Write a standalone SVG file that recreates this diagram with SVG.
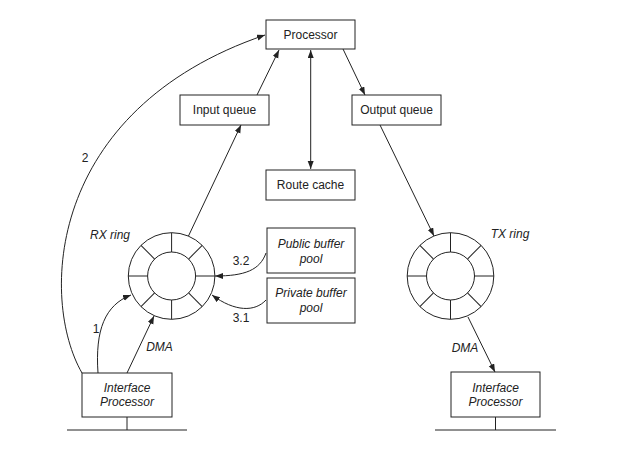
<svg xmlns="http://www.w3.org/2000/svg" width="621" height="450" viewBox="0 0 621 450">
<style>
.box{fill:#fff;stroke:#222;stroke-width:1}
.ln{fill:none;stroke:#222;stroke-width:1}
.t{font-family:"Liberation Sans",Arial,sans-serif;font-size:12px;fill:#222;text-anchor:middle}
.i{font-style:italic}
</style>
<defs>
<marker id="ah" markerWidth="9" markerHeight="7" refX="8" refY="3" orient="auto-start-reverse" markerUnits="userSpaceOnUse">
<path d="M0,0 L8,3 L0,6 z" fill="#222"/>
</marker>
<g id="ringshape">
<circle r="43.3" class="box"/>
<circle r="24" class="box"/>
<line class="ln" x1="24" x2="43.3" y1="0" y2="0"/>
<line class="ln" x1="24" x2="43.3" y1="0" y2="0" transform="rotate(45)"/>
<line class="ln" x1="24" x2="43.3" y1="0" y2="0" transform="rotate(90)"/>
<line class="ln" x1="24" x2="43.3" y1="0" y2="0" transform="rotate(135)"/>
<line class="ln" x1="24" x2="43.3" y1="0" y2="0" transform="rotate(180)"/>
<line class="ln" x1="24" x2="43.3" y1="0" y2="0" transform="rotate(225)"/>
<line class="ln" x1="24" x2="43.3" y1="0" y2="0" transform="rotate(270)"/>
<line class="ln" x1="24" x2="43.3" y1="0" y2="0" transform="rotate(315)"/>
</g>
</defs>
<rect width="621" height="450" fill="#fff"/>

<g id="connectors">
<path class="ln" d="M82,373 C40,300 45,110 265,35" marker-end="url(#ah)"/>
<path class="ln" d="M98,373 C95,330 105,305 131,295" marker-end="url(#ah)"/>
<line class="ln" x1="127" y1="373" x2="154" y2="316" marker-end="url(#ah)"/>
<path class="ln" d="M266,253 C260,270 245,276 215,276" marker-end="url(#ah)"/>
<path class="ln" d="M266,300 C255,312 235,312 212,295" marker-end="url(#ah)"/>
<line class="ln" x1="188" y1="237" x2="241" y2="125" marker-end="url(#ah)"/>
<line class="ln" x1="257" y1="95" x2="279" y2="50" marker-end="url(#ah)"/>
<line class="ln" x1="310.7" y1="50" x2="310.7" y2="169" marker-start="url(#ah)" marker-end="url(#ah)"/>
<line class="ln" x1="343" y1="49" x2="365" y2="95" marker-end="url(#ah)"/>
<line class="ln" x1="380" y1="125" x2="434" y2="236" marker-end="url(#ah)"/>
<line class="ln" x1="468" y1="317" x2="495" y2="372" marker-end="url(#ah)"/>
<line class="ln" x1="127" y1="417" x2="127" y2="430"/>
<line class="ln" x1="67" y1="430" x2="187" y2="430"/>
<line class="ln" x1="495.5" y1="417" x2="495.5" y2="430"/>
<line class="ln" x1="435" y1="430" x2="556" y2="430"/>
</g>

<g id="labels">
<text class="t" x="85" y="162">2</text>
<text class="t" x="96" y="333">1</text>
<text class="t i" x="159.5" y="351">DMA</text>
<text class="t" x="241" y="265">3.2</text>
<text class="t" x="241" y="322">3.1</text>
<text class="t i" x="465" y="352">DMA</text>
</g>

<g id="processor">
<rect class="box" x="266" y="20" width="89" height="29"/>
<text class="t" x="310.5" y="39">Processor</text>
</g>
<g id="input-queue">
<rect class="box" x="180" y="95" width="89" height="30"/>
<text class="t" x="224.5" y="114">Input queue</text>
</g>
<g id="output-queue">
<rect class="box" x="352" y="95" width="89" height="30"/>
<text class="t" x="396.5" y="114">Output queue</text>
</g>
<g id="route-cache">
<rect class="box" x="266" y="170" width="89" height="30"/>
<text class="t" x="310.5" y="189">Route cache</text>
</g>
<g id="rx-ring">
<use href="#ringshape" transform="translate(171.6,276)"/>
<text class="t i" x="110" y="239">RX ring</text>
</g>
<g id="tx-ring">
<use href="#ringshape" transform="translate(450.5,276)"/>
<text class="t i" x="510" y="238">TX ring</text>
</g>
<g id="public-pool">
<rect class="box" x="267" y="228" width="88" height="45"/>
<text class="t i" x="311" y="248">Public buffer</text>
<text class="t i" x="311" y="263">pool</text>
</g>
<g id="private-pool">
<rect class="box" x="267" y="278" width="88" height="45"/>
<text class="t i" x="311" y="297">Private buffer</text>
<text class="t i" x="311" y="312">pool</text>
</g>
<g id="rx-interface">
<rect class="box" x="82" y="373" width="90" height="44"/>
<text class="t i" x="127" y="392">Interface</text>
<text class="t i" x="127" y="406">Processor</text>
</g>
<g id="tx-interface">
<rect class="box" x="451" y="372" width="89" height="45"/>
<text class="t i" x="495.5" y="392">Interface</text>
<text class="t i" x="495.5" y="406">Processor</text>
</g>
</svg>
